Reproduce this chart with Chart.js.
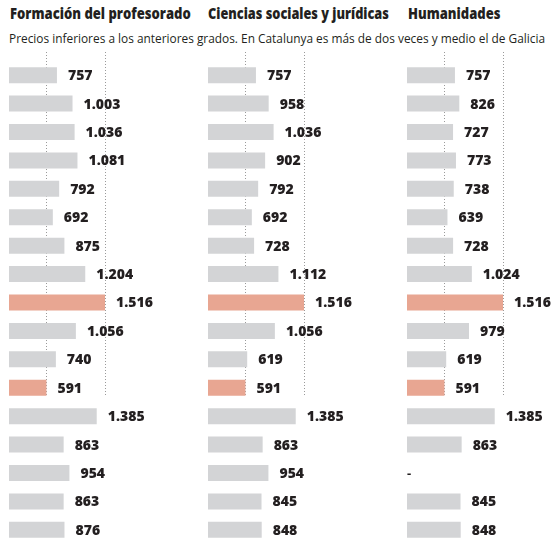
<!DOCTYPE html>
<html>
<head>
<meta charset="utf-8">
<script src="https://cdn.jsdelivr.net/npm/chart.js@4"></script>
<style>
  html, body { margin: 0; padding: 0; background: #fff; overflow: hidden; }
  body { width: 553px; height: 542px; position: relative; font-family: "Open Sans", sans-serif; color: #231f20; }
  .title { position: absolute; top: 3px; font-weight: 800; font-size: 15px; line-height: 20px; white-space: nowrap; transform-origin: left top; }
  .sub { position: absolute; left: 9px; top: 30px; font-size: 12px; line-height: 18px; white-space: nowrap; transform-origin: left top; }
  .panel { position: absolute; top: 50px; width: 199px; height: 494px; }
</style>
</head>
<body>
<div class="title" id="t0" style="left:10px">Formación del profesorado</div>
<div class="title" id="t1" style="left:208px">Ciencias sociales y jurídicas</div>
<div class="title" id="t2" style="left:408px">Humanidades</div>
<div class="sub" id="sub">Precios inferiores a los anteriores grados. En Catalunya es más de dos veces y medio el de Galicia</div>
<div class="panel" style="left:9px"><canvas id="c0" width="199" height="494"></canvas></div>
<div class="panel" style="left:208px"><canvas id="c1" width="199" height="494"></canvas></div>
<div class="panel" style="left:407px"><canvas id="c2" width="199" height="494"></canvas></div>
<script>
const communities = ['Andalucía', 'Aragón', 'Asturias', 'Baleares', 'Canarias', 'Cantabria', 'Castilla-La Mancha', 'Castilla y León', 'Catalunya', 'C. Valenciana', 'Extremadura', 'Galicia', 'Madrid', 'Murcia', 'Navarra', 'País Vasco', 'La Rioja'];
const formacion = [757, 1003, 1036, 1081, 792, 692, 875, 1204, 1516, 1056, 740, 591, 1385, 863, 954, 863, 876];
const sociales = [757, 958, 1036, 902, 792, 692, 728, 1112, 1516, 1056, 619, 591, 1385, 863, 954, 845, 848];
const humanidades = [757, 826, 727, 773, 738, 639, 728, 1024, 1516, 979, 619, 591, 1385, 863, null, 845, 848];
const highlighted = ['Catalunya', 'Galicia'];
const refLines = [591, 1516]; // Galicia and Catalunya
const xMax = 3142;

const grey = 'rgb(211, 212, 214)';
const salmon = 'rgb(232, 166, 146)';

function fmt(v) {
    return String(v).replace(/\B(?=(\d{3})+(?!\d))/g, '.');
}

// squeeze html texts to the width they have in the print
function fitWidth(id, w) {
    const el = document.getElementById(id);
    el.style.transform = 'scaleX(' + (w / el.offsetWidth) + ')';
}

const refLinesPlugin = {
    id: 'refLines',
    beforeDatasetsDraw(chart) {
        const ctx = chart.ctx;
        const x = chart.scales.x;
        const y = chart.scales.y;
        const bottom = y.getPixelForValue(communities.indexOf('Galicia')) + 8;
        ctx.save();
        ctx.strokeStyle = '#9a9a9a';
        ctx.lineWidth = 1;
        ctx.setLineDash([1, 2]);
        refLines.forEach(v => {
            const px = Math.round(x.getPixelForValue(v)) + 0.5;
            ctx.beginPath();
            ctx.moveTo(px, 2);
            ctx.lineTo(px, bottom);
            ctx.stroke();
        });
        ctx.restore();
    }
};

const valueLabels = {
    id: 'valueLabels',
    afterDatasetsDraw(chart) {
        const ctx = chart.ctx;
        const x = chart.scales.x;
        const y = chart.scales.y;
        const data = chart.data.datasets[0].data;
        ctx.save();
        ctx.fillStyle = '#231f20';
        ctx.font = '800 14px "Open Sans"';
        ctx.textBaseline = 'middle';
        data.forEach((v, i) => {
            const py = y.getPixelForValue(i) + 1;
            if (v === null) {
                ctx.font = 'bold 13px "Open Sans"';
                ctx.fillText('-', x.getPixelForValue(0), py);
                ctx.font = '800 14px "Open Sans"';
            } else {
                ctx.fillText(fmt(v), x.getPixelForValue(v) + 11, py);
            }
        });
        ctx.restore();
    }
};

function makeChart(id, values) {
    const ctx = document.getElementById(id).getContext('2d');
    new Chart(ctx, {
        type: 'bar',
        data: {
            labels: communities,
            datasets: [{
                data: values,
                backgroundColor: communities.map(c => highlighted.includes(c) ? salmon : grey),
                barPercentage: 0.563,
                categoryPercentage: 1,
                borderWidth: 0
            }]
        },
        options: {
            indexAxis: 'y',
            responsive: false,
            animation: false,
            layout: { padding: { top: 11, left: 0, right: 0, bottom: 0 } },
            plugins: { legend: { display: false }, tooltip: { enabled: false } },
            scales: {
                x: { display: false, min: 0, max: xMax },
                y: { display: false }
            }
        },
        plugins: [refLinesPlugin, valueLabels]
    });
}

Promise.all([
    document.fonts.load('bold 14px "Open Sans"'),
    document.fonts.load('800 15px "Open Sans"')
]).then(() => {
    fitWidth('t0', 181);
    fitWidth('t1', 181);
    fitWidth('t2', 92);
    fitWidth('sub', 536);
    makeChart('c0', formacion);
    makeChart('c1', sociales);
    makeChart('c2', humanidades);
});
</script>
</body>
</html>
